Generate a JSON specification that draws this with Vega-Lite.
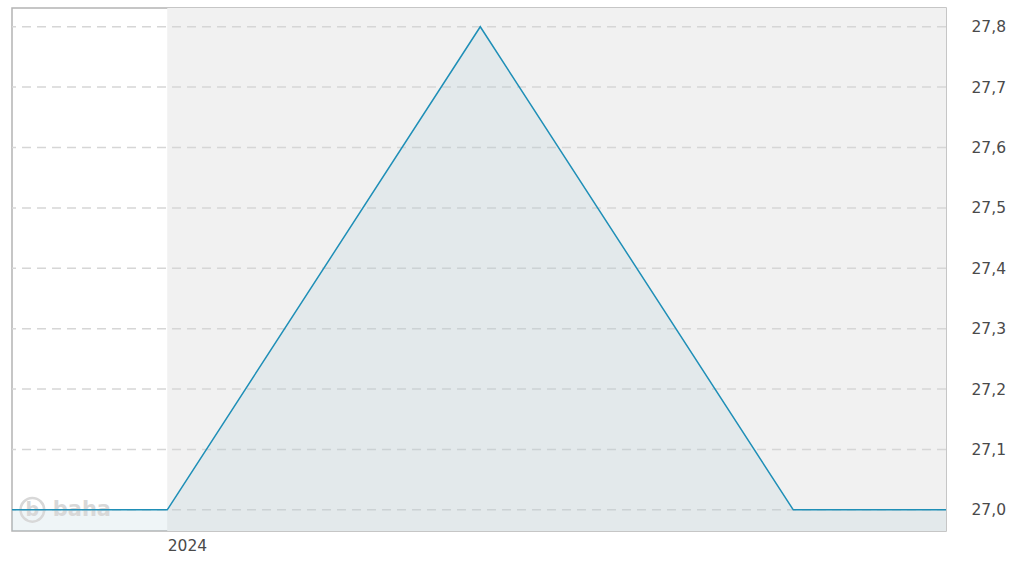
{
  "$schema": "https://vega.github.io/schema/vega-lite/v6.json",
  "width": 934,
  "height": 523,
  "autosize": {"type": "none"},
  "padding": {"left": 12, "top": 8, "right": 81, "bottom": 30},
  "background": "white",
  "config": {
    "view": {"stroke": "#b4b4b4", "strokeWidth": 1.5},
    "font": "DejaVu Sans"
  },
  "datasets": {
    "series": [
      {"date": "2023-11-01", "value": 27.0},
      {"date": "2024-01-01", "value": 27.0},
      {"date": "2024-05-03", "value": 27.8},
      {"date": "2024-09-03", "value": 27.0},
      {"date": "2024-11-02", "value": 27.0}
    ],
    "band": [{"start": "2024-01-01", "end": "2024-11-02"}],
    "grid": [
      {"g": 27.0}, {"g": 27.1}, {"g": 27.2}, {"g": 27.3}, {"g": 27.4},
      {"g": 27.5}, {"g": 27.6}, {"g": 27.7}, {"g": 27.8}
    ]
  },
  "layer": [
    {
      "data": {"name": "band"},
      "mark": {"type": "rect", "color": "#f1f1f1"},
      "encoding": {
        "x": {
          "field": "start",
          "type": "temporal",
          "scale": {"domain": ["2023-11-01", "2024-11-02"]},
          "axis": {
            "values": ["2024-01-01"],
            "format": "%Y",
            "grid": false,
            "ticks": false,
            "domain": false,
            "labelAlign": "left",
            "labelPadding": 7,
            "labelFontSize": 15.5,
            "labelColor": "#4a4a4a",
            "labelFont": "DejaVu Sans",
            "title": null
          }
        },
        "x2": {"field": "end"}
      }
    },
    {
      "data": {"name": "grid"},
      "mark": {"type": "rule", "color": "#d6d6d6", "strokeWidth": 1.5, "strokeDash": [9, 6]},
      "encoding": {
        "y": {
          "field": "g",
          "type": "quantitative",
          "scale": {"domain": [26.965, 27.831], "zero": false, "nice": false},
          "axis": {
            "orient": "right",
            "values": [27.0, 27.1, 27.2, 27.3, 27.4, 27.5, 27.6, 27.7, 27.8],
            "labelExpr": "replace(format(datum.value, '.1f'), '.', ',')",
            "grid": false,
            "ticks": false,
            "domain": false,
            "labelPadding": 25,
            "labelFontSize": 15.5,
            "labelColor": "#4a4a4a",
            "labelFont": "DejaVu Sans",
            "title": null
          }
        }
      }
    },
    {
      "data": {"name": "series"},
      "mark": {"type": "area", "color": "#9cc0ce", "opacity": 0.16},
      "encoding": {
        "x": {"field": "date", "type": "temporal"},
        "y": {"field": "value", "type": "quantitative"},
        "y2": {"datum": 26.965}
      }
    },
    {
      "data": {"values": [{"t": "b"}]},
      "mark": {"type": "point", "shape": "circle", "size": 560, "stroke": "#d8d8d8", "strokeWidth": 2.5, "filled": false, "opacity": 1},
      "encoding": {
        "x": {"datum": {"year": 2023, "month": "nov", "date": 9}, "type": "temporal"},
        "y": {"datum": 27.0, "type": "quantitative"}
      }
    },
    {
      "data": {"values": [{"t": "b"}]},
      "mark": {"type": "text", "fontSize": 19, "fontWeight": "bold", "color": "#d8d8d8", "align": "center", "baseline": "middle", "font": "DejaVu Sans"},
      "encoding": {
        "x": {"datum": {"year": 2023, "month": "nov", "date": 9}, "type": "temporal"},
        "y": {"datum": 27.0, "type": "quantitative"},
        "text": {"field": "t"}
      }
    },
    {
      "data": {"values": [{"t": "baha"}]},
      "mark": {"type": "text", "fontSize": 21, "fontWeight": "bold", "color": "#d8d8d8", "align": "left", "baseline": "middle", "font": "DejaVu Sans"},
      "encoding": {
        "x": {"datum": {"year": 2023, "month": "nov", "date": 17}, "type": "temporal"},
        "y": {"datum": 27.0, "type": "quantitative"},
        "text": {"field": "t"}
      }
    },
    {
      "data": {"name": "series"},
      "mark": {"type": "line", "color": "#1f8fb7", "strokeWidth": 1.5},
      "encoding": {
        "x": {"field": "date", "type": "temporal"},
        "y": {"field": "value", "type": "quantitative"}
      }
    }
  ]
}
